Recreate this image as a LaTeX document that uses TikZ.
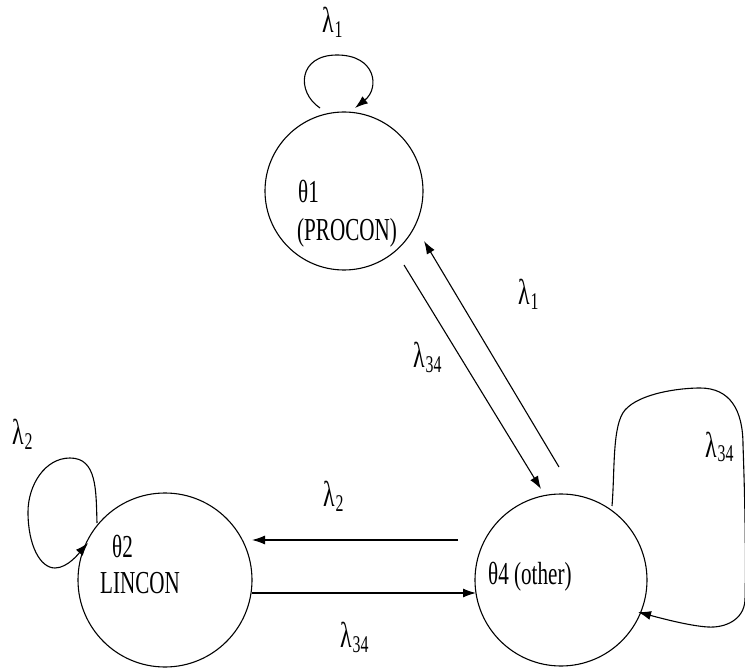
\documentclass[tikz,border=0pt]{standalone}
\usepackage{fontspec}
\setmainfont{Liberation Serif}[FakeStretch=0.66]
\usetikzlibrary{arrows.meta,calc}
% rate label: lambda with a lowered index
\newcommand\lamb[1]{{\fontsize{36}{36}\selectfont λ}\kern1pt\raisebox{-5pt}{\fontsize{24}{24}\selectfont #1}}
\tikzset{
  state/.style={circle,draw,line width=1.1pt,minimum size=#1,inner sep=0pt},
  lbl/.style={anchor=base west,inner sep=0pt},
  txt/.style={anchor=base west,inner sep=0pt,font=\fontsize{32}{32}\selectfont},
  edge/.style={line width=1.1pt,-{Latex[length=13pt,width=9pt]}}
}
\begin{document}
\begin{tikzpicture}[x=1pt,y=-1pt]
\useasboundingbox (0,0) rectangle (745,668);

% states
\node[state=158pt] (t1) at (344,191) {};
\node[state=174pt] (t2) at (165,580) {};
\node[state=172pt] (t4) at (561,580) {};

% state texts
\node[txt] (t1a) at (298,203) {θ1};
\node[txt] (t1b) at (297,241) {(PROCON)};
\node[txt] (t2a) at (112,557) {θ2};
\node[txt] (t2b) at (100,593) {LINCON};
\node[txt] (t4a) at (488,584) {θ4 (other)};

% transitions between states
\draw[edge] ([shift={(-103,-40)}]t4.center) -- ([shift={(87,-40)}]t2.center);
\draw[edge] ([shift={(87,13)}]t2.center) -- ([shift={(-85,13)}]t4.center);
\draw[edge] ([shift={(60,74)}]t1.center) -- ([shift={(-20,-91)}]t4.center);
\draw[edge] ([shift={(-2,-113)}]t4.center) -- ([shift={(80,50)}]t1.center);

% self loops
\draw[edge] ([shift={(-24,-83)}]t1.center)
  .. controls (296,92) and (298,55) .. (337,55)
  .. controls (376,55) and (380,88) .. ([shift={(11,-83)}]t1.center);
\draw[edge] ([shift={(-68,-57)}]t2.center)
  .. controls (96,490) and (97,458) .. (70,458)
  .. controls (45,458) and (28,485) .. (28,512)
  .. controls (28,545) and (40,568) .. (55,568)
  .. controls (68,568) and (80,552) .. ([shift={(-77,-37)}]t2.center);
\draw[edge] ([shift={(51,-74)}]t4.center)
  .. controls (615,470) and (612,425) .. (625,410)
  .. controls (640,393) and (680,388) .. (700,388)
  .. controls (730,388) and (743,410) .. (743,445)
  .. controls (745,500) and (746,560) .. (745,600)
  .. controls (744,620) and (725,628) .. (708,627)
  .. controls (690,626) and (660,618) .. ([shift={(77,32)}]t4.center);

% rate labels
\node[lbl] (l1a) at (322,33) {\lamb{1}};
\node[lbl] (l1b) at (518,305) {\lamb{1}};
\node[lbl] (l34a) at (413,368) {\lamb{34}};
\node[lbl] (l34b) at (705,457) {\lamb{34}};
\node[lbl] (l2a) at (12,445) {\lamb{2}};
\node[lbl] (l2b) at (323,507) {\lamb{2}};
\node[lbl] (l34c) at (340,647) {\lamb{34}};
\end{tikzpicture}
\end{document}
